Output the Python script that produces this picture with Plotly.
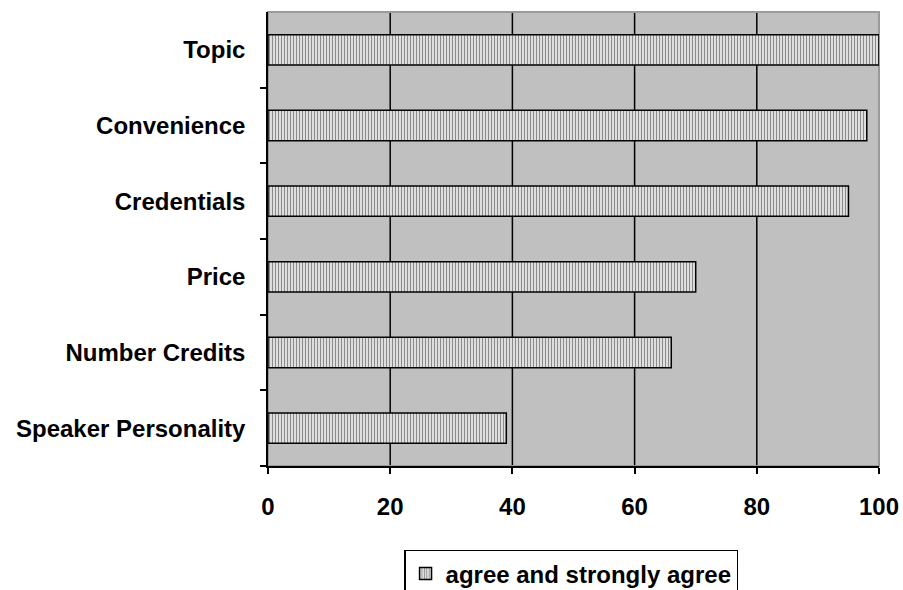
import plotly.graph_objects as go

# Survey factors and share of respondents who agree / strongly agree (%)
categories = ["Topic", "Convenience", "Credentials", "Price",
              "Number Credits", "Speaker Personality"]
agree_pct = [100, 98, 95, 70, 66, 39]
x_ticks = [0, 20, 40, 60, 80, 100]
series_name = "agree and strongly agree"

font_family = "Liberation Sans, Arial, sans-serif"

fig = go.Figure()
fig.add_trace(go.Bar(
    y=categories,
    x=agree_pct,
    orientation="h",
    name=f"<b>{series_name}</b>",
    width=0.4,
    marker=dict(
        color="#e6e6e6",
        line=dict(color="black", width=1.5),
        pattern=dict(shape="|", size=3, solidity=0.4,
                     fgcolor="#8a8a8a", bgcolor="#e8e8e8", fillmode="replace"),
    ),
    showlegend=True,
))

# vertical gridlines at interior ticks
for v in x_ticks[1:-1]:
    fig.add_shape(type="line", xref="x", yref="paper", x0=v, x1=v, y0=0, y1=1,
                  line=dict(color="black", width=1.5), layer="below")
# light frame on the open sides of the plot area
fig.add_shape(type="rect", xref="paper", yref="paper", x0=0, x1=1, y0=0, y1=1,
              line=dict(color="#9a9a9a", width=2), layer="below")

fig.update_layout(
    width=903, height=590,
    margin=dict(l=268, r=24, t=12, b=124, autoexpand=False),
    paper_bgcolor="white",
    plot_bgcolor="#c0c0c0",
    font=dict(family=font_family, size=24, color="black"),
    bargap=0.6,
    xaxis=dict(
        range=[0, 100],
        tickmode="array", tickvals=x_ticks,
        ticktext=[f"<b>{t}</b>" for t in x_ticks],
        showgrid=False, zeroline=False,
        showline=True, linecolor="black", linewidth=1.5,
        ticks="outside", ticklen=6, tickcolor="black", tickwidth=1.5,
        ticklabelstandoff=12,
        tickfont=dict(size=24),
    ),
    yaxis=dict(
        categoryorder="array", categoryarray=categories[::-1],
        tickmode="array", tickvals=categories,
        ticktext=[f"<b>{c}</b>" for c in categories],
        showgrid=False, zeroline=False,
        showline=True, linecolor="black", linewidth=1.5,
        ticks="outside", ticklen=6, tickcolor="black", tickwidth=1.5,
        tickson="boundaries",
        ticklabelstandoff=16,
        tickfont=dict(size=24),
    ),
    legend=dict(
        orientation="h",
        x=0.496, xanchor="center",
        y=-0.185, yanchor="top",
        bordercolor="black", borderwidth=1.5,
        bgcolor="white",
        font=dict(size=24),
        itemwidth=30,
    ),
)

fig.write_html("out.html")
